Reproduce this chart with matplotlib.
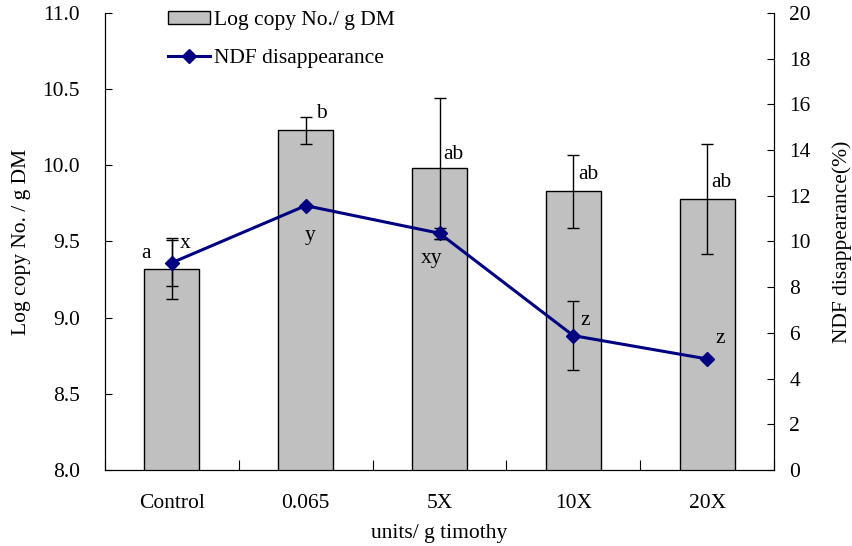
import numpy as np
from matplotlib import pyplot as plt

plt.rcParams['font.family'] = ['Liberation Serif', 'DejaVu Serif']
plt.rcParams['font.size'] = 15.5

# treatments
groups = ['Control', '0.065', '5X', '10X', '20X']

# gene copy numbers (left axis)
log_copy = [9.32, 10.23, 9.98, 9.83, 9.78]
log_copy_err = [0.20, 0.09, 0.465, 0.24, 0.36]
copy_letters = ['a', 'b', 'ab', 'ab', 'ab']

# NDF disappearance (right axis)
ndf = [9.07, 11.57, 10.36, 5.88, 4.86]
ndf_err = [1.0, 0.0, 0.25, 1.5, 0.0]
ndf_letters = ['x', 'y', 'xy', 'z', 'z']

# where the significance letters sit (x, left-axis y)
copy_letter_pos = [(-0.19, 9.42), (1.12, 10.34), (2.10, 10.07), (3.11, 9.94), (4.11, 9.89)]
ndf_letter_pos = [(0.10, 9.49), (1.03, 9.54), (1.94, 9.39), (3.09, 8.98), (4.10, 8.86)]

x = np.arange(len(groups))

fig = plt.figure(figsize=(8.52, 5.46), dpi=100)
ax = fig.add_axes([0.1232, 0.1392, 0.7853, 0.8370])
ax2 = ax.twinx()

bars = ax.bar(x, log_copy, width=0.41, color='#c0c0c0', edgecolor='black',
              linewidth=1.0, label='Log copy No./ g DM', zorder=2)
ax.errorbar(x, log_copy, yerr=log_copy_err, fmt='none', ecolor='black',
            elinewidth=1.0, capsize=4, capthick=1.0, zorder=3)

ndf_err_plot = [e if e > 0 else np.nan for e in ndf_err]
ax2.errorbar(x, ndf, yerr=ndf_err_plot, fmt='none', ecolor='black',
             elinewidth=1.0, capsize=4, capthick=1.0, zorder=3)
line, = ax2.plot(x, ndf, color='#000080', linewidth=2.2, marker='D',
                 markersize=7.5, label='NDF disappearance', zorder=4)

for lab, (tx, ty) in zip(copy_letters, copy_letter_pos):
    ax.text(tx, ty, lab, ha='center', va='center')
for lab, (tx, ty) in zip(ndf_letters, ndf_letter_pos):
    ax.text(tx, ty, lab, ha='center', va='center')

ax.set_xlim(-0.5, 4.5)
ax.set_ylim(8.0, 11.0)
ax.set_yticks(np.arange(8.0, 11.01, 0.5))
ax.set_yticklabels(['%.1f' % v for v in np.arange(8.0, 11.01, 0.5)])
ax2.set_ylim(0, 20)
ax2.set_yticks(np.arange(0, 21, 2))

# category ticks sit between the groups, labels centred under the bars
ax.set_xticks(np.arange(-0.5, 4.6, 1.0))
ax.set_xticklabels([])
ax.set_xticks(x, minor=True)
ax.set_xticklabels(groups, minor=True)
ax.tick_params(axis='x', which='minor', length=0, pad=17)
ax.tick_params(axis='x', which='major', direction='in', length=7)
ax.tick_params(axis='y', direction='in', length=5, pad=18)
ax2.tick_params(axis='y', direction='in', length=5, pad=11)

ax.spines['top'].set_visible(False)
ax2.spines['top'].set_visible(False)

ax.set_xlabel('units/ g timothy', labelpad=8)
ax.set_ylabel('Log copy No. / g DM', labelpad=8)
ax2.set_ylabel('NDF disappearance(%)', labelpad=15)

ax2.legend([bars, line], ['Log copy No./ g DM', 'NDF disappearance'],
           loc='upper left', bbox_to_anchor=(0.094, 1.004), frameon=False,
           handlelength=1.95, handleheight=0.55, handletextpad=0.2,
           labelspacing=0.88, borderaxespad=0, borderpad=0)

fig.savefig('out.png', dpi=100)
